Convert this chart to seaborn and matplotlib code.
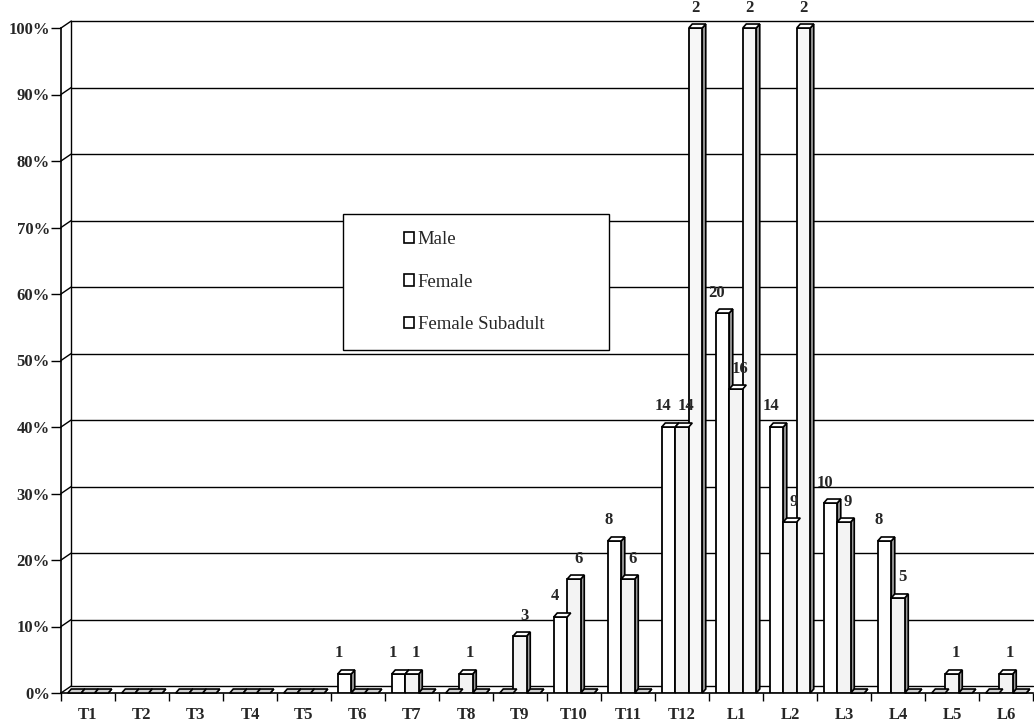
import numpy as np
import pandas as pd
import matplotlib
matplotlib.use("Agg")
import matplotlib.pyplot as plt
from matplotlib.patches import Polygon, Rectangle, Patch
import seaborn as sns

# ---------------- data ----------------
vertebrae = ["T1", "T2", "T3", "T4", "T5", "T6", "T7", "T8", "T9", "T10", "T11", "T12",
             "L1", "L2", "L3", "L4", "L5", "L6"]
series = ["Male", "Female", "Female Subadult"]
male_pct = [0, 0, 0, 0, 0, 2.86, 2.86, 0, 0, 11.43, 22.86, 40.0, 57.14, 40.0, 28.57, 22.86, 0, 0]
female_pct = [0, 0, 0, 0, 0, 0, 2.86, 2.86, 8.57, 17.14, 17.14, 40.0, 45.71, 25.71, 25.71, 14.29, 2.86, 2.86]
subadult_pct = [0, 0, 0, 0, 0, 0, 0, 0, 0, 0, 0, 100.0, 100.0, 100.0, 0, 0, 0, 0]
male_n = [0, 0, 0, 0, 0, 1, 1, 0, 0, 4, 8, 14, 20, 14, 10, 8, 0, 0]
female_n = [0, 0, 0, 0, 0, 0, 1, 1, 3, 6, 6, 14, 16, 9, 9, 5, 1, 1]
subadult_n = [0, 0, 0, 0, 0, 0, 0, 0, 0, 0, 0, 2, 2, 2, 0, 0, 0, 0]
y_ticks = [0, 10, 20, 30, 40, 50, 60, 70, 80, 90, 100]

rows = []
for s, pct in zip(series, [male_pct, female_pct, subadult_pct]):
    for v, p in zip(vertebrae, pct):
        rows.append({"vert": v, "sex": s, "pct": p / 100.0})
df = pd.DataFrame(rows)
counts = [male_n, female_n, subadult_n]

# ---------------- style ----------------
sns.set_style("white")
plt.rcParams["font.family"] = ["Liberation Serif", "DejaVu Serif"]

fig = plt.figure(figsize=(10.34, 7.26), dpi=100)
ax = fig.add_axes([61 / 1034, 1 - 693 / 726, 972 / 1034, 665 / 726])

face = {"Male": "#ffffff", "Female": "#f3f3f3", "Female Subadult": "#f7f7f7"}
sns.barplot(data=df, x="vert", y="pct", hue="sex", hue_order=series, order=vertebrae,
            palette=face, edgecolor="black", linewidth=1.3, width=0.75, gap=0,
            legend=False, ax=ax, zorder=3)

ax.set_xlim(-0.5, len(vertebrae) - 0.5)
ax.set_ylim(0, 1)

# pseudo-3D depth
dx, dy = 0.065, 0.006          # bar depth
wx, wy = 0.19, 0.0105          # back-wall offset

# back wall + gridlines
for t in y_ticks:
    y = t / 100
    ax.plot([-0.5 + wx, len(vertebrae) - 0.5], [y + wy, y + wy], color="black",
            lw=1.0, zorder=1, clip_on=False)
    ax.plot([-0.5, -0.5 + wx], [y, y + wy], color="black", lw=1.0, zorder=1, clip_on=False)
ax.plot([-0.5 + wx, -0.5 + wx], [wy, 1 + wy], color="black", lw=1.0, zorder=1, clip_on=False)

# 3D faces on the bars
for cont in ax.containers:
    for p in cont.patches:
        x0 = p.get_x()
        w = p.get_width()
        h = p.get_height()
        x1 = x0 + w
        side = Polygon([(x1, 0), (x1 + dx, dy), (x1 + dx, h + dy), (x1, h)],
                       closed=True, facecolor="#9a9a9a", edgecolor="black", lw=1.2,
                       zorder=2.9, clip_on=False)
        top = Polygon([(x0, h), (x0 + dx, h + dy), (x1 + dx, h + dy), (x1, h)],
                      closed=True, facecolor="#d0d0d0" if h == 0 else "white",
                      edgecolor="black", lw=1.2, zorder=3.1, clip_on=False)
        ax.add_patch(side)
        ax.add_patch(top)

# count labels (slight horizontal offsets per series, as in the original)
label_shift = [-4, 3, 0]
for cont, n, sh in zip(ax.containers, counts, label_shift):
    for p, c in zip(cont.patches, n):
        if c <= 0:
            continue
        xc = p.get_x() + p.get_width() / 2
        ax.annotate(str(c), (xc, p.get_height()), xytext=(sh, 9),
                    textcoords="offset points", ha="center", va="bottom",
                    fontsize=12, fontweight="bold", annotation_clip=False, zorder=5)

# axes formatting
ax.set_yticks([t / 100 for t in y_ticks])
ax.set_yticklabels([f"{t}%" for t in y_ticks], fontsize=12, fontweight="bold")
ax.tick_params(axis="y", length=7, width=1, color="black", pad=1, direction="out", left=True)
ax.set_xticks(range(len(vertebrae)))
ax.set_xticklabels(vertebrae, fontsize=12, fontweight="bold")
ax.set_xticks(np.arange(-0.5, len(vertebrae), 1.0), minor=True)
ax.tick_params(axis="x", which="major", length=0, pad=10)
ax.tick_params(axis="x", which="minor", length=6, width=1, color="black", direction="out", bottom=True)
ax.set_xlabel("")
ax.set_ylabel("")
for s in ["top", "right"]:
    ax.spines[s].set_visible(False)
for s in ["left", "bottom"]:
    ax.spines[s].set_color("black")
    ax.spines[s].set_linewidth(1.2)
ax.grid(False)

# legend
ax.add_patch(Rectangle((0.290, 0.516), 0.274, 0.204, transform=ax.transAxes,
                       facecolor="white", edgecolor="black", lw=1.0, zorder=6))
handles = [Patch(facecolor="white", edgecolor="black", lw=1.2) for _ in series]
leg = ax.legend(handles, series, loc="center left", bbox_to_anchor=(0.343, 0.618),
                frameon=False, fontsize=13.5, handlelength=0.55, handleheight=0.55,
                handletextpad=0.2, labelspacing=1.35, borderpad=0)
leg.set_zorder(7)

fig.savefig("out.png", dpi=100, facecolor="white")
